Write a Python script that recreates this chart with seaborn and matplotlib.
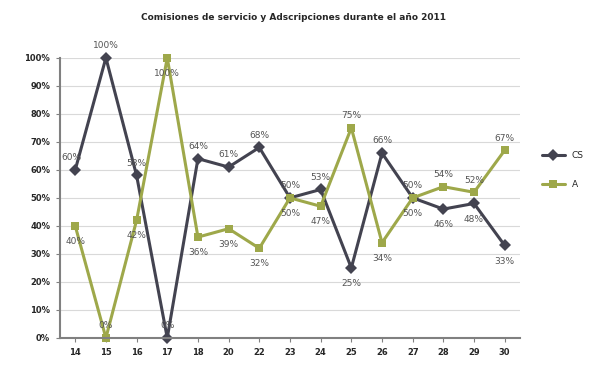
import pandas as pd
import matplotlib
matplotlib.use("Agg")
import matplotlib.pyplot as plt
import seaborn as sns

# datos
dias = ["14", "15", "16", "17", "18", "20", "22", "23", "24", "25", "26", "27", "28", "29", "30"]
cs = [60, 100, 58, 0, 64, 61, 68, 50, 53, 25, 66, 50, 46, 48, 33]
ads = [40, 0, 42, 100, 36, 39, 32, 50, 47, 75, 34, 50, 54, 52, 67]
series = ["CS", "A"]
colores = ["#434350", "#9ea84a"]

df = pd.DataFrame({"dia": dias * 2, "valor": [v / 100 for v in cs + ads],
                   "serie": [series[0]] * len(dias) + [series[1]] * len(dias)})
df["pos"] = list(range(len(dias))) * 2

sns.set_style("white")
fig = plt.figure(figsize=(5.93, 3.78), dpi=100)
ax = fig.add_axes([0.101, 0.106, 0.776, 0.741])

sns.lineplot(data=df, x="pos", y="valor", hue="serie", style="serie",
             palette=colores, markers=["D", "s"], dashes=False, linewidth=2.2,
             markersize=6, markeredgewidth=0, ax=ax, sort=False)

# etiquetas: la serie de arriba encima, la de abajo debajo
for i, d in enumerate(dias):
    for vals, otros in ((cs, ads), (ads, cs)):
        v = vals[i]
        arriba = v > otros[i] or (v == otros[i] and vals is cs)
        if v == 0:
            arriba = True
        if v == 100 and vals is ads:
            arriba = False
        dy = 7 if arriba else -13
        dx = -3 if (i == 0 and arriba) else 0
        ax.annotate(f"{v}%", (i, v / 100), xytext=(dx, dy), textcoords="offset points",
                    ha="center", fontsize=6.5, color="#555555")

ax.set_xlim(-0.5, len(dias) - 0.5)
ax.set_ylim(0, 1.0)
ax.set_xticks(range(len(dias)))
ax.set_xticklabels(dias, fontsize=6, fontweight="bold")
ax.set_yticks([i / 10 for i in range(11)])
ax.set_yticklabels([f"{i * 10}%" for i in range(11)], fontsize=6, fontweight="bold")
ax.yaxis.grid(True, color="#d9d9d9", linewidth=0.8)
ax.set_xlabel("")
ax.set_ylabel("")
for s in ["top", "right"]:
    ax.spines[s].set_visible(False)
for s in ["left", "bottom"]:
    ax.spines[s].set_color("#808080")
    ax.spines[s].set_linewidth(1.5)
ax.tick_params(axis="both", length=3, color="#808080", pad=4, direction="out")
ax.tick_params(axis="x", which="both", bottom=True)
ax.tick_params(axis="y", left=True)
for ln in ax.lines:
    ln.set_clip_on(False)

ax.legend(loc="center left", bbox_to_anchor=(1.03, 0.6), frameon=False, fontsize=6.5,
          handlelength=2.5, labelspacing=2.2)
fig.suptitle("Comisiones de servicio y Adscripciones durante el año 2011", x=0.495, y=0.965,
             fontsize=6.5, fontweight="bold")

fig.savefig("out.png", dpi=100)
